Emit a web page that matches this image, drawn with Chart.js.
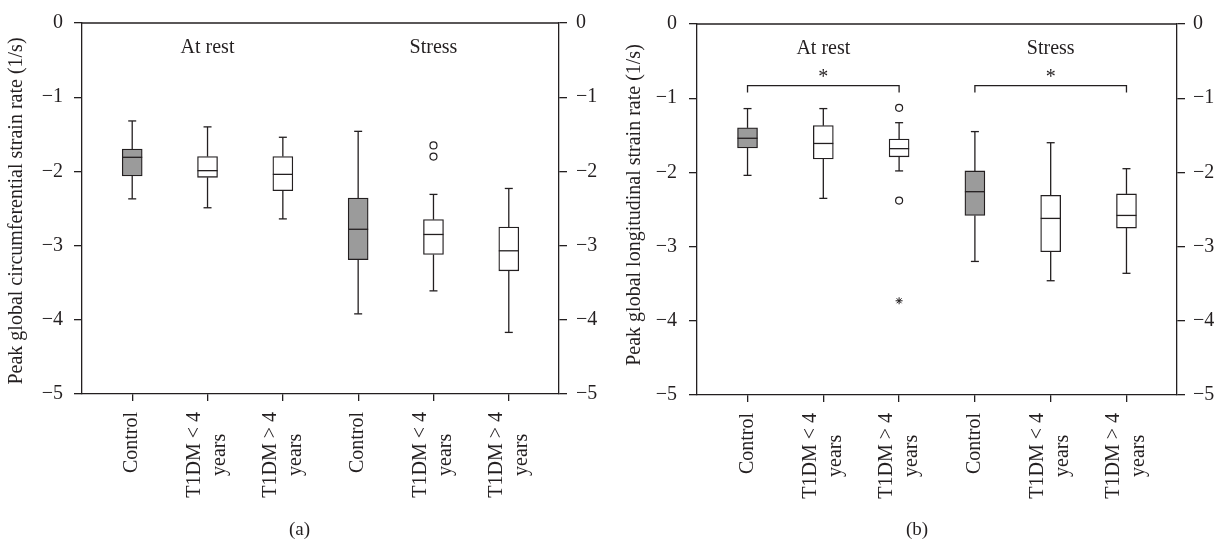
<!DOCTYPE html>
<html>
<head>
<meta charset="utf-8">
<script src="https://cdn.jsdelivr.net/npm/chart.js@4.4.0/dist/chart.umd.min.js"></script>
<style>
  html, body { margin: 0; padding: 0; background: #fff; }
  #wrap { position: relative; width: 1222px; height: 540px; }
  .panel { position: absolute; top: 0; width: 611px; height: 540px; }
  .tag { position: absolute; top: 518px; font: 19px "Liberation Serif", "Times New Roman", serif; color: #231f20; }
</style>
</head>
<body>
<div id="wrap">
  <div class="panel" style="left:0"><canvas id="chartA"></canvas></div>
  <div class="panel" style="left:611px"><canvas id="chartB"></canvas></div>
  <div class="tag" style="left:289px">(a)</div>
  <div class="tag" style="left:906px">(b)</div>
</div>
<script>
// Categories and tick labels
const categories = [['Control'], ['T1DM < 4', 'years'], ['T1DM > 4', 'years'],
                    ['Control'], ['T1DM < 4', 'years'], ['T1DM > 4', 'years']];
const groupLabels = ['At rest', 'Stress'];
const yTicks = [0, -1, -2, -3, -4, -5];

// (a) Peak global circumferential strain rate
const circMax    = [-1.32, -1.40, -1.54, -1.46, -2.31, -2.23];
const circQ3     = [-1.70, -1.80, -1.80, -2.36, -2.65, -2.75];
const circMedian = [-1.81, -1.99, -2.04, -2.78, -2.85, -3.07];
const circQ1     = [-2.06, -2.08, -2.26, -3.19, -3.12, -3.34];
const circMin    = [-2.37, -2.49, -2.64, -3.92, -3.61, -4.17];
const circOutliers = [[4, -1.65], [4, -1.80]];
const circExtremes = [];
const circBrackets = [];

// (b) Peak global longitudinal strain rate
const longMax    = [-1.14, -1.14, -1.33, -1.45, -1.60, -1.95];
const longQ3     = [-1.40, -1.37, -1.55, -1.98, -2.31, -2.29];
const longMedian = [-1.54, -1.61, -1.68, -2.26, -2.62, -2.58];
const longQ1     = [-1.67, -1.82, -1.79, -2.58, -3.07, -2.75];
const longMin    = [-2.04, -2.35, -1.98, -3.20, -3.46, -3.36];
const longOutliers = [[2, -1.13], [2, -2.38]];
const longExtremes = [[2, -3.73]];
const longBrackets = [[0, 2], [3, 5]];

const ink = '#231f20';
const grey = '#9b9b9b';
const serif = '"Liberation Serif", "Times New Roman", serif';
const fontSize = 20;

function fmtTick(v) {
    return v === 0 ? '0' : '\u2212' + Math.abs(v);
}

// whiskers, medians, frame, group labels, brackets, category labels, axis title
const boxPlugin = {
    id: 'boxExtras',
    afterDatasetsDraw(chart, args, opts) {
        const { ctx, chartArea } = chart;
        const xs = chart.scales.x, ys = chart.scales.y;
        ctx.save();
        ctx.strokeStyle = ink;
        ctx.lineWidth = 1.3;
        const seg = (x1, y1, x2, y2) => {
            ctx.beginPath(); ctx.moveTo(x1, y1); ctx.lineTo(x2, y2); ctx.stroke();
        };

        // top frame line
        seg(chartArea.left, chartArea.top, chartArea.right, chartArea.top);

        opts.median.forEach((m, i) => {
            const px = xs.getPixelForValue(i);
            const top = ys.getPixelForValue(opts.max[i]);
            const q3 = ys.getPixelForValue(opts.q3[i]);
            const q1 = ys.getPixelForValue(opts.q1[i]);
            const bot = ys.getPixelForValue(opts.min[i]);
            seg(px, q3, px, top);
            seg(px - 4, top, px + 4, top);
            seg(px, q1, px, bot);
            seg(px - 4, bot, px + 4, bot);
            const my = ys.getPixelForValue(m);
            seg(px - 10, my, px + 10, my);
        });

        ctx.fillStyle = ink;
        ctx.font = fontSize + 'px ' + serif;
        ctx.textAlign = 'center';
        ctx.textBaseline = 'middle';
        groupLabels.forEach((g, k) => {
            ctx.fillText(g, xs.getPixelForValue(1 + 3 * k), ys.getPixelForValue(-0.34));
        });

        opts.brackets.forEach(([a, b]) => {
            const x1 = xs.getPixelForValue(a), x2 = xs.getPixelForValue(b);
            const yb = ys.getPixelForValue(-0.83);
            ctx.beginPath();
            ctx.moveTo(x1, yb + 7); ctx.lineTo(x1, yb); ctx.lineTo(x2, yb); ctx.lineTo(x2, yb + 7);
            ctx.stroke();
            ctx.textBaseline = 'alphabetic';
            ctx.fillText('*', (x1 + x2) / 2, yb - 3);
            ctx.textBaseline = 'middle';
        });

        // rotated category labels under the x axis
        const lh = 25;
        categories.forEach((lines, i) => {
            const px = xs.getPixelForValue(i);
            const maxW = Math.max(...lines.map(l => ctx.measureText(l).width));
            const cy = chartArea.bottom + 18 + maxW / 2;
            lines.forEach((l, j) => {
                const off = (j - (lines.length - 1) / 2) * lh;
                ctx.save();
                ctx.translate(px + off, cy);
                ctx.rotate(-Math.PI / 2);
                ctx.fillText(l, 0, 0);
                ctx.restore();
            });
        });

        // y axis title
        ctx.save();
        ctx.translate(opts.titleX, opts.titleY);
        ctx.rotate(-Math.PI / 2);
        ctx.fillText(opts.title, 0, 0);
        ctx.restore();

        ctx.restore();
    }
};

function yAxis(position, width, pad) {
    return {
        type: 'linear',
        position: position,
        min: -5,
        max: 0,
        afterBuildTicks: s => { s.ticks = yTicks.map(v => ({ value: v })); },
        afterFit: s => { s.width = width; },
        ticks: { callback: fmtTick, font: { family: serif, size: fontSize }, color: ink, padding: pad },
        grid: { drawOnChartArea: false, drawTicks: true, tickLength: 8, color: ink, lineWidth: 1.3 },
        border: { color: ink, width: 1.3 }
    };
}

function makeChart(id, stats, outliers, extremes, brackets, title, dims) {
    return new Chart(document.getElementById(id), {
        type: 'bar',
        data: {
            datasets: [
                {
                    type: 'bar',
                    data: stats.q1.map((q, i) => ({ x: i, y: [q, stats.q3[i]] })),
                    backgroundColor: categories.map(c => c[0] === 'Control' ? grey : '#ffffff'),
                    borderColor: ink,
                    borderWidth: 1.3,
                    borderSkipped: false,
                    barThickness: 20
                },
                {
                    type: 'scatter',
                    data: outliers.map(([x, y]) => ({ x, y })),
                    pointStyle: 'circle',
                    radius: 3.5,
                    borderColor: ink,
                    backgroundColor: '#ffffff',
                    borderWidth: 1.2
                },
                {
                    type: 'scatter',
                    data: extremes.map(([x, y]) => ({ x, y })),
                    pointStyle: 'star',
                    radius: 3.5,
                    borderColor: ink,
                    borderWidth: 1
                }
            ]
        },
        options: {
            responsive: true,
            maintainAspectRatio: false,
            animation: false,
            layout: { padding: { top: 19, left: 0, right: 0, bottom: 0 } },
            plugins: {
                legend: { display: false },
                tooltip: { enabled: false },
                boxExtras: Object.assign({ brackets: brackets, title: title, titleX: dims.titleX, titleY: dims.titleY }, stats)
            },
            scales: {
                x: {
                    type: 'linear',
                    min: -2 / 3,
                    max: 5 + 2 / 3,
                    offset: false,
                    afterBuildTicks: s => { s.ticks = categories.map((c, i) => ({ value: i })); },
                    afterFit: s => { s.height = dims.xHeight; },
                    ticks: { display: false },
                    grid: { drawOnChartArea: false, drawTicks: true, tickLength: 7, color: ink, lineWidth: 1.3, offset: false },
                    border: { color: ink, width: 1.3 }
                },
                y: yAxis('left', dims.left, dims.leftPad),
                y2: yAxis('right', dims.right, dims.rightPad)
            }
        },
        plugins: [boxPlugin]
    });
}

makeChart('chartA',
    { max: circMax, q3: circQ3, median: circMedian, q1: circQ1, min: circMin },
    circOutliers, circExtremes, circBrackets,
    'Peak global circumferential strain rate (1/s)',
    { left: 82, right: 52, xHeight: 146, leftPad: 11, rightPad: 9, titleX: 17, titleY: 211 });

makeChart('chartB',
    { max: longMax, q3: longQ3, median: longMedian, q1: longQ1, min: longMin },
    longOutliers, longExtremes, longBrackets,
    'Peak global longitudinal strain rate (1/s)',
    { left: 86, right: 45, xHeight: 145, leftPad: 12, rightPad: 8, titleX: 24, titleY: 205 });
</script>
</body>
</html>
